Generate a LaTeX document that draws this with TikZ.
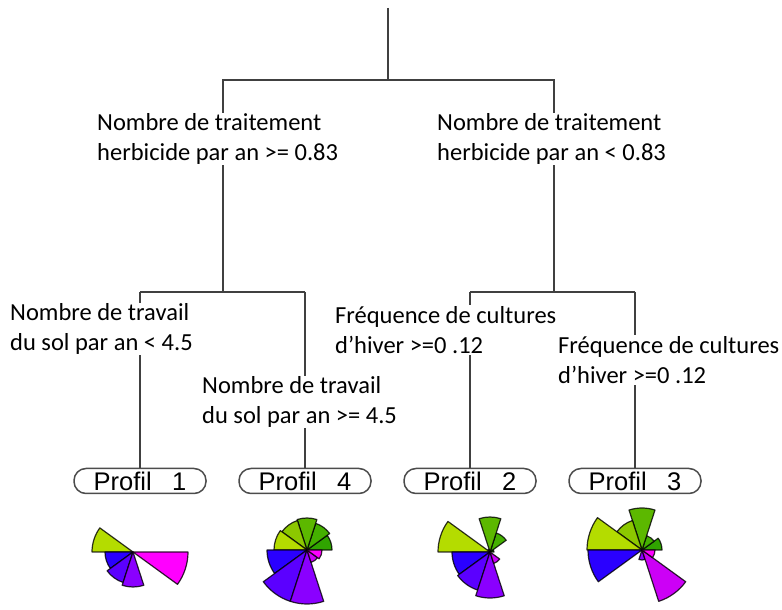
\documentclass[tikz,border=0pt]{standalone}
\usepackage{fontspec}
\usepackage{tikz}
\usetikzlibrary{positioning}
\newfontfamily\lblfont{Carlito}
\newfontfamily\boxfont{Liberation Sans}

\definecolor{sect0}{HTML}{30A400}
\definecolor{sect1}{HTML}{44B000}
\definecolor{sect2}{HTML}{5CB800}
\definecolor{sect3}{HTML}{8CC800}
\definecolor{sect4}{HTML}{B4DC00}
\definecolor{sect5}{HTML}{2A00FF}
\definecolor{sect6}{HTML}{5B00FF}
\definecolor{sect7}{HTML}{8A00FF}
\definecolor{sect8}{HTML}{CC00F6}
\definecolor{sect9}{HTML}{FF00FF}

\tikzset{
  branch/.style={draw=black!75, line width=1.6pt},
  cond/.style={fill=white, inner sep=1pt, align=left, anchor=west,
    font=\lblfont\fontsize{24.5}{30}\selectfont},
  profil/.style={draw=black!70, line width=1.5pt, rounded corners=12pt, fill=white,
    minimum width=132pt, minimum height=25pt, inner sep=0pt,
    font=\boxfont\fontsize{25.5}{28}\selectfont},
}

% rose plot: x, y, radii of the ten sectors
\newcommand{\rosace}[3]{%
  \foreach \r [count=\i from 0] in {#3} {
    \ifdim \r pt>0pt
      \filldraw[fill=sect\i, draw=black, draw opacity=0.8, line width=1.2pt, line join=round]
        (#1,#2) -- ++(36*\i:\r pt) arc[start angle=36*\i, end angle=36*\i+36, radius=\r pt] -- cycle;
    \fi
  }%
}

\begin{document}
\begin{tikzpicture}[x=1pt, y=1pt]
    \useasboundingbox (0,0) rectangle (782,610);
    % Nodes
    \coordinate (top) at (388,602);
    \coordinate (j0) at (388,530);
    \coordinate (jL) at (223,530);
    \coordinate (jR) at (554,530);
    \coordinate (kL) at (223,318);
    \coordinate (kR) at (554,318);
    \coordinate (a1) at (140,318);
    \coordinate (a4) at (305,318);
    \coordinate (a2) at (470,318);
    \coordinate (a3) at (635,318);
    \node [profil] (p1) at (140,129) {Profil\hspace{0.8em}1};
    \node [profil] (p4) at (305,129) {Profil\hspace{0.8em}4};
    \node [profil] (p2) at (470,129) {Profil\hspace{0.8em}2};
    \node [profil] (p3) at (635,129) {Profil\hspace{0.8em}3};
    % Branches
    \draw [branch] (top) -- (j0);
    \draw [branch] (kL) -- (jL) -- (jR) -- (kR);
    \draw [branch] (a1) -- (a4);
    \draw [branch] (a2) -- (a3);
    \draw [branch] (a1) -- (p1);
    \draw [branch] (a4) -- (p4);
    \draw [branch] (a2) -- (p2);
    \draw [branch] (a3) -- (p3);
    % Conditions
    \node [cond] (herbHi) at (96,471) {Nombre de traitement\\herbicide par an >= 0.83};
    \node [cond] (herbLo) at (436,471) {Nombre de traitement\\herbicide par an < 0.83};
    \node [cond] (solLo) at (9,281) {Nombre de travail\\du sol par an < 4.5};
    \node [cond] (solHi) at (201,208) {Nombre de travail\\du sol par an >= 4.5};
    \node [cond] (hivA) at (334,280) {Fréquence de cultures\\d’hiver >=0 .12};
    \node [cond] (hivB) at (557,250) {Fréquence de cultures\\d’hiver >=0 .12};
    % Rose plots
    \rosace{133}{58}{0,0,0,0,41,28,32,35,0,55}
    \rosace{307}{60}{25,28,32,31,33,40,54,54,13,15}
    \rosace{490}{58}{4,20,35,3,52,38,40,46,12,0}
    \rosace{642}{60}{20,15,42,31,55,54,0,10,54,13}
\end{tikzpicture}
\end{document}
